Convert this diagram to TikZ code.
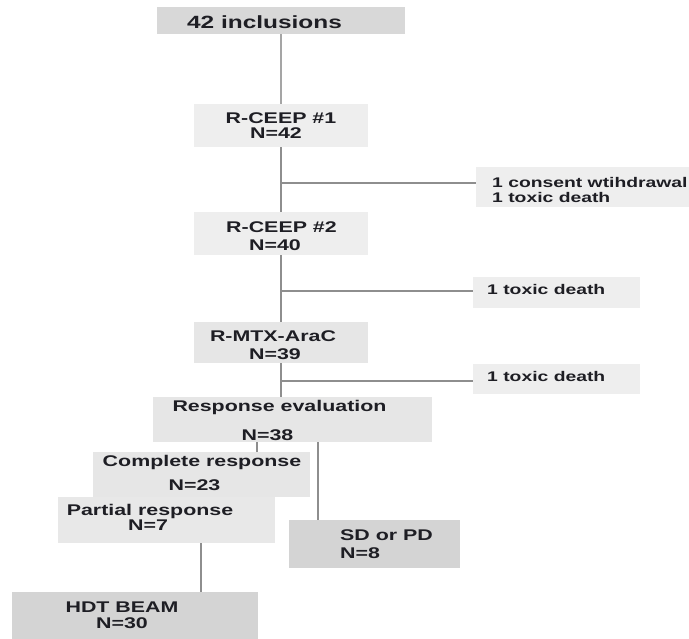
\documentclass[tikz,border=0pt]{standalone}
\usepackage{fontspec}
\newfontfamily\lab[FakeStretch=1.38]{Liberation Sans}
\definecolor{boxdark}{HTML}{D8D8D8}
\definecolor{boxsd}{HTML}{D4D4D4}
\definecolor{boxlight}{HTML}{EEEEEE}
\definecolor{boxmid}{HTML}{E6E6E6}
\definecolor{linegray}{HTML}{8E8E8E}
\definecolor{txtcol}{HTML}{1E1E24}
\begin{document}
\begin{tikzpicture}[x=1pt,y=-1pt,
  box/.style={rectangle,inner sep=0,draw=none},
  txt/.style={inner sep=0,anchor=base,text=txtcol,font=\lab\bfseries\fontsize{15.5}{17}\selectfont},
  txtl/.style={txt,anchor=base west,font=\lab\bfseries\fontsize{14}{16}\selectfont},
  conn/.style={draw=linegray,line width=1.8pt}]
\useasboundingbox (0,0) rectangle (689,639);
% boxes
\node[box,fill=boxdark,minimum width=248,minimum height=27] (inc) at (281,20.5) {};
\node[box,fill=boxlight,minimum width=174,minimum height=43] (r1) at (281,125.5) {};
\node[box,fill=boxlight,minimum width=213,minimum height=40] (c1) at (582.5,187) {};
\node[box,fill=boxlight,minimum width=174,minimum height=43] (r2) at (281,233.5) {};
\node[box,fill=boxlight,minimum width=167,minimum height=31] (d1) at (556.5,292.5) {};
\node[box,fill=boxmid,minimum width=174,minimum height=41] (r3) at (281,342.5) {};
\node[box,fill=boxlight,minimum width=167,minimum height=30] (d2) at (556.5,379) {};
\node[box,fill=boxmid,minimum width=279,minimum height=45] (resp) at (292.5,419.5) {};
\node[box,fill=boxmid,minimum width=217,minimum height=45] (cr) at (201.5,474.5) {};
\node[box,fill=boxmid!80!boxlight,minimum width=217,minimum height=46] (pr) at (166.5,520) {};
\node[box,fill=boxsd,minimum width=171,minimum height=48] (sd) at (374.5,544) {};
\node[box,fill=boxsd,minimum width=246,minimum height=53] (hdt) at (135,618.5) {};
% connectors
\draw[conn,draw=linegray!80] (inc.south) -- (r1.north);
\draw[conn] (r1.south) -- (r2.north);
\draw[conn] (r2.south) -- (r3.north);
\draw[conn] (r3.south) -- (r3.south |- resp.north);
\draw[conn] ([yshift=4pt]c1.west) -- ([yshift=4pt]c1.west -| r1.south);
\draw[conn] ([yshift=1.5pt]d1.west) -- ([yshift=1.5pt]d1.west -| r2.south);
\draw[conn] ([yshift=-2pt]d2.west) -- ([yshift=-2pt]d2.west -| r3.south);
\draw[conn] ([xshift=55.5pt]cr.north) -- ([xshift=55.5pt]cr.north |- resp.south);
\draw[conn] ([xshift=-56.5pt]sd.north) -- ([xshift=-56.5pt]sd.north |- resp.south);
\draw[conn] ([xshift=66pt]hdt.north) -- ([xshift=66pt]hdt.north |- pr.south);
% texts
\node[txt,font=\lab\bfseries\fontsize{17.7}{19}\selectfont] (t-inc) at (264.5,29) {42 inclusions};
\node[txt] (t-r1a) at (281,124) {R-CEEP \#1};
\node[txt] (t-r1b) at (276,139) {N=42};
\node[txtl] (t-c1a) at (492,188) {1 consent wtihdrawal};
\node[txtl] (t-c1b) at (492,203) {1 toxic death};
\node[txt] (t-r2a) at (281.5,233) {R-CEEP \#2};
\node[txt] (t-r2b) at (275,251) {N=40};
\node[txtl] (t-d1) at (487,295) {1 toxic death};
\node[txt] (t-r3a) at (273,342) {R-MTX-AraC};
\node[txt] (t-r3b) at (275,360) {N=39};
\node[txtl] (t-d2) at (487,382) {1 toxic death};
\node[txt] (t-ra) at (279.5,412) {Response evaluation};
\node[txt] (t-rb) at (267.5,440) {N=38};
\node[txt] (t-cra) at (202,467) {Complete response};
\node[txt] (t-crb) at (194.5,490) {N=23};
\node[txt] (t-pra) at (150,515) {Partial response};
\node[txt] (t-prb) at (148,530) {N=7};
\node[txt] (t-sda) at (386.5,540) {SD or PD};
\node[txtl,font=\lab\bfseries\fontsize{15.5}{17}\selectfont] (t-sdb) at (340,558) {N=8};
\node[txt] (t-ha) at (122,612) {HDT BEAM};
\node[txt] (t-hb) at (122,628) {N=30};
\end{tikzpicture}
\end{document}
